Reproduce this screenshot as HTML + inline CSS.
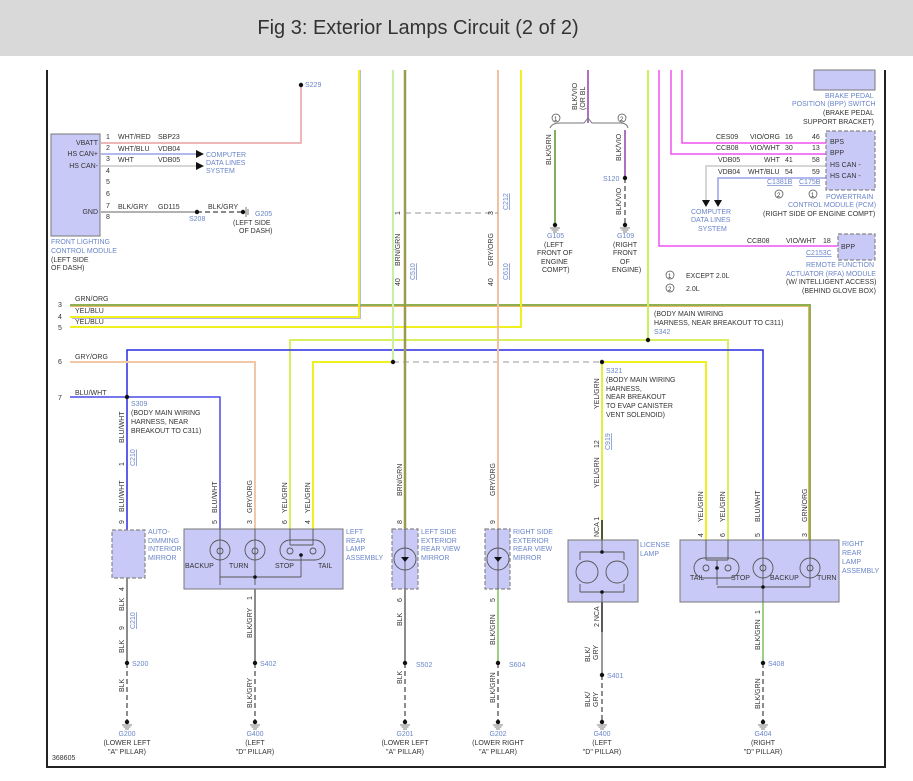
<!DOCTYPE html>
<html><head><meta charset="utf-8"><style>
html,body{margin:0;padding:0;background:#fff}
svg{display:block}
text{font-family:"Liberation Sans",sans-serif;font-size:7px;fill:#333}
.b{fill:#6a85c8}
.u{text-decoration:underline}
</style></head><body>
<svg width="913" height="781" viewBox="0 0 913 781" xmlns="http://www.w3.org/2000/svg">
<rect x="0" y="0" width="913" height="56" fill="#d9d9d9"/>
<text x="418" y="34" text-anchor="middle" style="font-size:20px;fill:#333">Fig 3: Exterior Lamps Circuit (2 of 2)</text>
<path d="M47 70 V767 H885 V70" fill="none" stroke="#222" stroke-width="2"/>

<g fill="none" stroke-linecap="butt">
<path d="M101 143 H301 V85" stroke="#e8a0a0" stroke-width="1.5"/>
<path d="M101 154 H196" stroke="#9aa0e8" stroke-width="1.5"/>
<path d="M101 166 H196" stroke="#c8c8c8" stroke-width="1.5"/>
<path d="M101 212 H197" stroke="#999" stroke-width="1.5"/>
<path d="M197 212 H243" stroke="#444" stroke-width="1.2" stroke-dasharray="5,3"/>
<path d="M70 305 H810 V540" stroke="#8fb050" stroke-width="2"/>
<path d="M70 306.5 H808.5 V540" stroke="#e0a040" stroke-width="0.8"/>
<path d="M70 317 H359 V70" stroke="#f0f020" stroke-width="2"/>
<path d="M72 318.5 H360.5 V70" stroke="#9a9ae8" stroke-width="0.7"/>
<path d="M70 327 H521 V70" stroke="#f0f020" stroke-width="2"/>
<path d="M290 529 V340 H728 V540" stroke="#d8f060" stroke-width="2"/>
<path d="M648 70 V340" stroke="#c8f060" stroke-width="2"/>
<path d="M127 530 V350 H763 V540" stroke="#2a2ae0" stroke-width="1.5"/>
<path d="M393 362 H602" stroke="#999" stroke-width="1" stroke-dasharray="6,4"/>
<path d="M313 529 V362 H393" stroke="#f0f020" stroke-width="2"/>
<path d="M393 70 V362" stroke="#c8f0a0" stroke-width="2"/>
<path d="M602 362 H706 V540" stroke="#f0f020" stroke-width="2"/>
<path d="M602 362 V540" stroke="#e0f040" stroke-width="2"/>
<path d="M70 362 H255 V529" stroke="#f0c8a8" stroke-width="2"/>
<path d="M70 397 H220 V529" stroke="#4a4ae8" stroke-width="1.5"/>
<path d="M405 70 V529" stroke="#9a9a50" stroke-width="2.5"/>
<path d="M498 70 V529" stroke="#f0c0a0" stroke-width="2"/>
<path d="M405 213 H498" stroke="#999" stroke-width="1" stroke-dasharray="6,4"/>
<path d="M588 70 V123" stroke="#b070c0" stroke-width="2"/>
<path d="M550 128 Q552 123 560 123 H584 L588 118 L592 123 H620 Q627 123 628 128" stroke="#777" stroke-width="1"/>
<path d="M555 130 V225" stroke="#80b060" stroke-width="2"/>
<path d="M625 130 V178" stroke="#b070c0" stroke-width="2"/>
<path d="M625 178 V225" stroke="#444" stroke-width="1.2" stroke-dasharray="5,3"/>
<path d="M682 70 V143 H826" stroke="#f050f0" stroke-width="1.5"/>
<path d="M671 70 V154 H826" stroke="#f050f0" stroke-width="1.5"/>
<path d="M659 70 V246 H838" stroke="#f050f0" stroke-width="1.5"/>
<path d="M826 166 H706 V200" stroke="#c8c8c8" stroke-width="1.5"/>
<path d="M826 178 H718 V200" stroke="#9aa0e8" stroke-width="1.5"/>
<path d="M127 578 V663" stroke="#666" stroke-width="1.5"/>
<path d="M255 589 V663" stroke="#666" stroke-width="1.5"/>
<path d="M405 589 V663" stroke="#666" stroke-width="1.5"/>
<path d="M498 589 V663" stroke="#80c060" stroke-width="1.5"/>
<path d="M602 602 V632" stroke="#222" stroke-width="1.5"/>
<path d="M602 632 V675" stroke="#777" stroke-width="1.5"/>
<path d="M763 602 V663" stroke="#80c060" stroke-width="1.5"/>
<path d="M602 520 V540" stroke="#222" stroke-width="1.5"/>
<g stroke="#444" stroke-width="1.2" stroke-dasharray="5,3">
<path d="M127 663 V720"/><path d="M255 663 V720"/><path d="M405 663 V720"/><path d="M498 663 V720"/><path d="M602 675 V720"/><path d="M763 663 V720"/>
</g>
</g>

<g fill="#111">
<circle cx="301" cy="85" r="2.2"/><circle cx="197" cy="212" r="2.2"/><circle cx="243" cy="212" r="2.2"/>
<circle cx="625" cy="178" r="2.2"/><circle cx="648" cy="340" r="2.2"/><circle cx="393" cy="362" r="2.2"/>
<circle cx="602" cy="362" r="2.2"/><circle cx="127" cy="397" r="2.2"/>
<circle cx="127" cy="663" r="2.2"/><circle cx="255" cy="663" r="2.2"/><circle cx="405" cy="663" r="2.2"/>
<circle cx="498" cy="663" r="2.2"/><circle cx="602" cy="675" r="2.2"/><circle cx="763" cy="663" r="2.2"/>
<circle cx="555" cy="225" r="2.2"/><circle cx="625" cy="225" r="2.2"/>
<circle cx="127" cy="722" r="2.2"/><circle cx="255" cy="722" r="2.2"/><circle cx="405" cy="722" r="2.2"/>
<circle cx="498" cy="722" r="2.2"/><circle cx="602" cy="722" r="2.2"/><circle cx="763" cy="722" r="2.2"/>
<path d="M196 150 L204 154 L196 158Z M196 162 L204 166 L196 170Z"/>
<path d="M702 200 H710 L706 207Z M714 200 H722 L718 207Z"/>
</g>
<g stroke="#555" stroke-width="0.8">
<path d="M122 725 H132 M123.5 727 H130.5 M125 729 H129"/>
<path d="M250 725 H260 M251.5 727 H258.5 M253 729 H257"/>
<path d="M400 725 H410 M401.5 727 H408.5 M403 729 H407"/>
<path d="M493 725 H503 M494.5 727 H501.5 M496 729 H500"/>
<path d="M597 725 H607 M598.5 727 H605.5 M600 729 H604"/>
<path d="M758 725 H768 M759.5 727 H766.5 M761 729 H765"/>
<path d="M550 228 H560 M551.5 230 H558.5 M553 232 H557"/>
<path d="M620 228 H630 M621.5 230 H628.5 M623 232 H627"/>
<path d="M246 207 V217 M248 209 V215"/>
</g>

<rect x="51" y="134" width="49" height="102" fill="#c9c9f7" stroke="#777"/>
<rect x="814" y="70" width="61" height="20" fill="#c9c9f7" stroke="#777"/>
<rect x="826" y="131" width="49" height="59" fill="#c9c9f7" stroke="#888" stroke-dasharray="4,2" stroke-width="1.2"/>
<rect x="838" y="234" width="37" height="26" fill="#c9c9f7" stroke="#888" stroke-dasharray="4,2" stroke-width="1.2"/>
<rect x="112" y="530" width="33" height="48" fill="#c9c9f7" stroke="#888" stroke-dasharray="4,2" stroke-width="1.2"/>
<rect x="184" y="529" width="159" height="60" fill="#c9c9f7" stroke="#777"/>
<rect x="392" y="529" width="26" height="60" fill="#c9c9f7" stroke="#888" stroke-dasharray="4,2" stroke-width="1.2"/>
<rect x="485" y="529" width="25" height="60" fill="#c9c9f7" stroke="#888" stroke-dasharray="4,2" stroke-width="1.2"/>
<rect x="568" y="540" width="70" height="62" fill="#c9c9f7" stroke="#777"/>
<rect x="680" y="540" width="159" height="62" fill="#c9c9f7" stroke="#777"/>

<g fill="none" stroke="#555" stroke-width="0.9">
<circle cx="220" cy="550" r="10"/><circle cx="255" cy="550" r="10"/>
<rect x="280" y="540" width="45" height="20" rx="10"/>
<path d="M220 529 V585 M255 529 V585 M290 529 V545 M313 529 V545 M290 545 H313 M301 555 V567 M220 577 H301 M301 577 V567"/>
<circle cx="405" cy="559" r="11"/><path d="M405 529 V589"/>
<circle cx="498" cy="559" r="11"/><path d="M498 529 V589"/>
<path d="M602 540 V552 M580 552 H624 M580 552 V560 M624 552 V560 M580 592 H624 M580 584 V592 M624 584 V592 M602 592 V602"/>
<circle cx="587" cy="572" r="11"/><circle cx="617" cy="572" r="11"/>
<rect x="694" y="558" width="45" height="20" rx="10"/>
<circle cx="763" cy="568" r="10"/><circle cx="810" cy="568" r="10"/>
<path d="M706 540 V560 M728 540 V560 M706 560 H728 M717 560 V585 M717 587 H810 M763 540 V602 M810 540 V587"/>
<circle cx="220" cy="551" r="3"/><circle cx="255" cy="551" r="3"/><circle cx="290" cy="551" r="3"/><circle cx="313" cy="551" r="3"/>
<circle cx="763" cy="568" r="3"/><circle cx="810" cy="568" r="3"/><circle cx="706" cy="568" r="3"/><circle cx="728" cy="568" r="3"/>
</g>
<g fill="#111"><circle cx="255" cy="577" r="1.8"/><circle cx="301" cy="555" r="1.8"/><circle cx="602" cy="552" r="1.8"/><circle cx="602" cy="592" r="1.8"/><circle cx="717" cy="568" r="1.8"/><circle cx="763" cy="587" r="1.8"/>
<path d="M401 557 H409 L405 562Z M494 557 H502 L498 562Z"/></g>

<g text-anchor="end"><text x="98" y="145">VBATT</text><text x="98" y="156">HS CAN+</text><text x="98" y="168">HS CAN-</text><text x="98" y="214">GND</text></g>
<text x="106" y="139">1</text><text x="106" y="150">2</text><text x="106" y="161">3</text><text x="106" y="173">4</text><text x="106" y="184">5</text><text x="106" y="196">6</text><text x="106" y="208">7</text><text x="106" y="219">8</text>
<text x="118" y="139">WHT/RED</text><text x="158" y="139">SBP23</text>
<text x="118" y="151">WHT/BLU</text><text x="158" y="151">VDB04</text>
<text x="118" y="162">WHT</text><text x="158" y="162">VDB05</text>
<text x="118" y="209">BLK/GRY</text><text x="158" y="209">GD115</text><text x="208" y="209">BLK/GRY</text>
<text x="189" y="221" class="b">S208</text><text x="255" y="216" class="b">G205</text>
<text x="233" y="225">(LEFT SIDE</text><text x="239" y="233">OF DASH)</text>
<text x="206" y="157" class="b">COMPUTER</text><text x="206" y="165" class="b">DATA LINES</text><text x="206" y="173" class="b">SYSTEM</text>
<text x="51" y="244" class="b">FRONT LIGHTING</text><text x="51" y="253" class="b">CONTROL MODULE</text><text x="51" y="262">(LEFT SIDE</text><text x="51" y="270">OF DASH)</text>
<text x="305" y="87" class="b">S229</text>
<text x="58" y="307">3</text><text x="58" y="319">4</text><text x="58" y="330">5</text><text x="58" y="364">6</text><text x="58" y="400">7</text>
<text x="75" y="301">GRN/ORG</text><text x="75" y="313">YEL/BLU</text><text x="75" y="324">YEL/BLU</text><text x="75" y="359">GRY/ORG</text><text x="75" y="395">BLU/WHT</text>
<text x="131" y="406" class="b">S309</text><text x="131" y="415">(BODY MAIN WIRING</text><text x="131" y="424">HARNESS, NEAR</text><text x="131" y="433">BREAKOUT TO C311)</text>
<text x="654" y="316">(BODY MAIN WIRING</text><text x="654" y="325">HARNESS, NEAR BREAKOUT TO C311)</text><text x="654" y="334" class="b">S342</text>
<text x="606" y="373" class="b">S321</text><text x="606" y="382">(BODY MAIN WIRING</text><text x="606" y="391">HARNESS,</text><text x="606" y="399">NEAR BREAKOUT</text><text x="606" y="408">TO EVAP CANISTER</text><text x="606" y="417">VENT SOLENOID)</text>
<text transform="translate(577,110) rotate(-90)">BLK/VIO</text><text transform="translate(585,110) rotate(-90)">(OR BL</text>
<circle cx="556" cy="118" r="4" fill="none" stroke="#444" stroke-width="0.7"/><text x="554" y="121" style="font-size:6px">1</text>
<circle cx="622" cy="118" r="4" fill="none" stroke="#444" stroke-width="0.7"/><text x="620" y="121" style="font-size:6px">2</text>
<text transform="translate(551,165) rotate(-90)">BLK/GRN</text><text transform="translate(621,161) rotate(-90)">BLK/VIO</text>
<text transform="translate(621,215) rotate(-90)">BLK/VIO</text>
<text x="603" y="181" class="b">S120</text>
<text x="547" y="238" class="b">G105</text><text x="544" y="247">(LEFT</text><text x="537" y="255">FRONT OF</text><text x="541" y="264">ENGINE</text><text x="542" y="272">COMPT)</text>
<text x="617" y="238" class="b">G109</text><text x="613" y="247">(RIGHT</text><text x="613" y="255">FRONT</text><text x="620" y="264">OF</text><text x="612" y="272">ENGINE)</text>
<text transform="translate(400,266) rotate(-90)">BRN/GRN</text><text transform="translate(493,266) rotate(-90)">GRY/ORG</text>
<text transform="translate(400,215) rotate(-90)">1</text><text transform="translate(493,215) rotate(-90)">3</text>
<text transform="translate(508,210) rotate(-90)" class="b u">C212</text>
<text transform="translate(400,286) rotate(-90)">40</text><text transform="translate(493,286) rotate(-90)">40</text>
<text transform="translate(415,280) rotate(-90)" class="b u">C510</text><text transform="translate(508,280) rotate(-90)" class="b u">C610</text>
<text x="825" y="98" class="b">BRAKE PEDAL</text><text x="792" y="106" class="b">POSITION (BPP) SWITCH</text><text x="823" y="115">(BRAKE PEDAL</text><text x="803" y="124">SUPPORT BRACKET)</text>
<text x="716" y="139">CES09</text><text x="750" y="139">VIO/ORG</text><text x="785" y="139">16</text><text x="812" y="139">46</text>
<text x="716" y="150">CCB08</text><text x="750" y="150">VIO/WHT</text><text x="785" y="150">30</text><text x="812" y="150">13</text>
<text x="718" y="162">VDB05</text><text x="764" y="162">WHT</text><text x="785" y="162">41</text><text x="812" y="162">58</text>
<text x="718" y="174">VDB04</text><text x="748" y="174">WHT/BLU</text><text x="785" y="174">54</text><text x="812" y="174">59</text>
<text x="830" y="144">BPS</text><text x="830" y="155">BPP</text><text x="830" y="167">HS CAN -</text><text x="830" y="178">HS CAN -</text>
<text x="767" y="184" class="b u">C1381B</text><text x="799" y="184" class="b u">C175B</text>
<circle cx="779" cy="194" r="4" fill="none" stroke="#444" stroke-width="0.7"/><text x="777" y="197" style="font-size:6px">2</text>
<circle cx="813" cy="194" r="4" fill="none" stroke="#444" stroke-width="0.7"/><text x="811" y="197" style="font-size:6px">1</text>
<text x="826" y="199" class="b">POWERTRAIN</text><text x="788" y="207" class="b">CONTROL MODULE (PCM)</text><text x="763" y="216">(RIGHT SIDE OF ENGINE COMPT)</text>
<text x="691" y="214" class="b">COMPUTER</text><text x="691" y="222" class="b">DATA LINES</text><text x="698" y="231" class="b">SYSTEM</text>
<text x="747" y="243">CCB08</text><text x="786" y="243">VIO/WHT</text><text x="823" y="243">18</text><text x="841" y="249">BPP</text>
<text x="806" y="255" class="b u">C2153C</text>
<text x="806" y="267" class="b">REMOTE FUNCTION</text><text x="786" y="276" class="b">ACTUATOR (RFA) MODULE</text><text x="786" y="284">(W/ INTELLIGENT ACCESS)</text><text x="802" y="293">(BEHIND GLOVE BOX)</text>
<circle cx="670" cy="275" r="4" fill="none" stroke="#444" stroke-width="0.7"/><text x="668" y="278" style="font-size:6px">1</text>
<circle cx="670" cy="288" r="4" fill="none" stroke="#444" stroke-width="0.7"/><text x="668" y="291" style="font-size:6px">2</text>
<text x="686" y="278">EXCEPT 2.0L</text><text x="686" y="291">2.0L</text>
<text transform="translate(124,443) rotate(-90)">BLU/WHT</text><text transform="translate(124,466) rotate(-90)">1</text>
<text transform="translate(135,466) rotate(-90)" class="b u">C210</text>
<text transform="translate(124,512) rotate(-90)">BLU/WHT</text><text transform="translate(124,524) rotate(-90)">9</text>
<text transform="translate(124,591) rotate(-90)">4</text>
<text transform="translate(124,611) rotate(-90)">BLK</text>
<text transform="translate(124,630) rotate(-90)">9</text><text transform="translate(135,629) rotate(-90)" class="b u">C210</text>
<text transform="translate(124,653) rotate(-90)">BLK</text>
<text transform="translate(124,692) rotate(-90)">BLK</text>
<text x="132" y="666" class="b">S200</text>
<text transform="translate(217,513) rotate(-90)">BLU/WHT</text><text transform="translate(217,524) rotate(-90)">5</text>
<text transform="translate(252,513) rotate(-90)">GRY/ORG</text><text transform="translate(252,524) rotate(-90)">3</text>
<text transform="translate(287,513) rotate(-90)">YEL/GRN</text><text transform="translate(287,524) rotate(-90)">6</text>
<text transform="translate(310,513) rotate(-90)">YEL/GRN</text><text transform="translate(310,524) rotate(-90)">4</text>
<text x="185" y="568">BACKUP</text><text x="229" y="568">TURN</text><text x="275" y="568">STOP</text><text x="318" y="568">TAIL</text>
<text x="148" y="534" class="b">AUTO-</text><text x="148" y="543" class="b">DIMMING</text><text x="148" y="551" class="b">INTERIOR</text><text x="148" y="560" class="b">MIRROR</text>
<text x="346" y="534" class="b">LEFT</text><text x="346" y="543" class="b">REAR</text><text x="346" y="551" class="b">LAMP</text><text x="346" y="560" class="b">ASSEMBLY</text>
<text transform="translate(252,600) rotate(-90)">1</text><text transform="translate(252,638) rotate(-90)">BLK/GRY</text>
<text x="260" y="666" class="b">S402</text><text transform="translate(252,708) rotate(-90)">BLK/GRY</text>
<text transform="translate(402,496) rotate(-90)">BRN/GRN</text><text transform="translate(402,524) rotate(-90)">8</text>
<text x="421" y="534" class="b">LEFT SIDE</text><text x="421" y="543" class="b">EXTERIOR</text><text x="421" y="551" class="b">REAR VIEW</text><text x="421" y="560" class="b">MIRROR</text>
<text transform="translate(402,602) rotate(-90)">6</text><text transform="translate(402,626) rotate(-90)">BLK</text>
<text x="416" y="667" class="b">S502</text><text transform="translate(402,684) rotate(-90)">BLK</text>
<text transform="translate(495,496) rotate(-90)">GRY/ORG</text><text transform="translate(495,524) rotate(-90)">9</text>
<text x="513" y="534" class="b">RIGHT SIDE</text><text x="513" y="543" class="b">EXTERIOR</text><text x="513" y="551" class="b">REAR VIEW</text><text x="513" y="560" class="b">MIRROR</text>
<text transform="translate(495,602) rotate(-90)">5</text><text transform="translate(495,645) rotate(-90)">BLK/GRN</text>
<text x="509" y="667" class="b">S604</text><text transform="translate(495,703) rotate(-90)">BLK/GRN</text>
<text transform="translate(599,409) rotate(-90)">YEL/GRN</text><text transform="translate(599,448) rotate(-90)">12</text>
<text transform="translate(610,450) rotate(-90)" class="b u">C919</text>
<text transform="translate(599,488) rotate(-90)">YEL/GRN</text><text transform="translate(599,537) rotate(-90)">NCA 1</text>
<text x="640" y="547" class="b">LICENSE</text><text x="640" y="556" class="b">LAMP</text>
<text transform="translate(599,627) rotate(-90)">2 NCA</text>
<text transform="translate(590,662) rotate(-90)">BLK/</text><text transform="translate(598,660) rotate(-90)">GRY</text>
<text x="607" y="678" class="b">S401</text>
<text transform="translate(590,707) rotate(-90)">BLK/</text><text transform="translate(598,707) rotate(-90)">GRY</text>
<text transform="translate(703,522) rotate(-90)">YEL/GRN</text><text transform="translate(703,537) rotate(-90)">4</text>
<text transform="translate(725,522) rotate(-90)">YEL/GRN</text><text transform="translate(725,537) rotate(-90)">6</text>
<text transform="translate(760,522) rotate(-90)">BLU/WHT</text><text transform="translate(760,537) rotate(-90)">5</text>
<text transform="translate(807,522) rotate(-90)">GRN/ORG</text><text transform="translate(807,537) rotate(-90)">3</text>
<text x="690" y="580">TAIL</text><text x="731" y="580">STOP</text><text x="770" y="580">BACKUP</text><text x="817" y="580">TURN</text>
<text x="842" y="546" class="b">RIGHT</text><text x="842" y="555" class="b">REAR</text><text x="842" y="564" class="b">LAMP</text><text x="842" y="573" class="b">ASSEMBLY</text>
<text transform="translate(760,614) rotate(-90)">1</text><text transform="translate(760,650) rotate(-90)">BLK/GRN</text>
<text x="768" y="666" class="b">S408</text><text transform="translate(760,709) rotate(-90)">BLK/GRN</text>
<g text-anchor="middle">
<text x="127" y="736" class="b">G200</text><text x="127" y="745">(LOWER LEFT</text><text x="127" y="754">"A" PILLAR)</text>
<text x="255" y="736" class="b">G400</text><text x="255" y="745">(LEFT</text><text x="255" y="754">"D" PILLAR)</text>
<text x="405" y="736" class="b">G201</text><text x="405" y="745">(LOWER LEFT</text><text x="405" y="754">"A" PILLAR)</text>
<text x="498" y="736" class="b">G202</text><text x="498" y="745">(LOWER RIGHT</text><text x="498" y="754">"A" PILLAR)</text>
<text x="602" y="736" class="b">G400</text><text x="602" y="745">(LEFT</text><text x="602" y="754">"D" PILLAR)</text>
<text x="763" y="736" class="b">G404</text><text x="763" y="745">(RIGHT</text><text x="763" y="754">"D" PILLAR)</text>
</g>
<text x="52" y="760">368605</text>
</svg>
</body></html>
